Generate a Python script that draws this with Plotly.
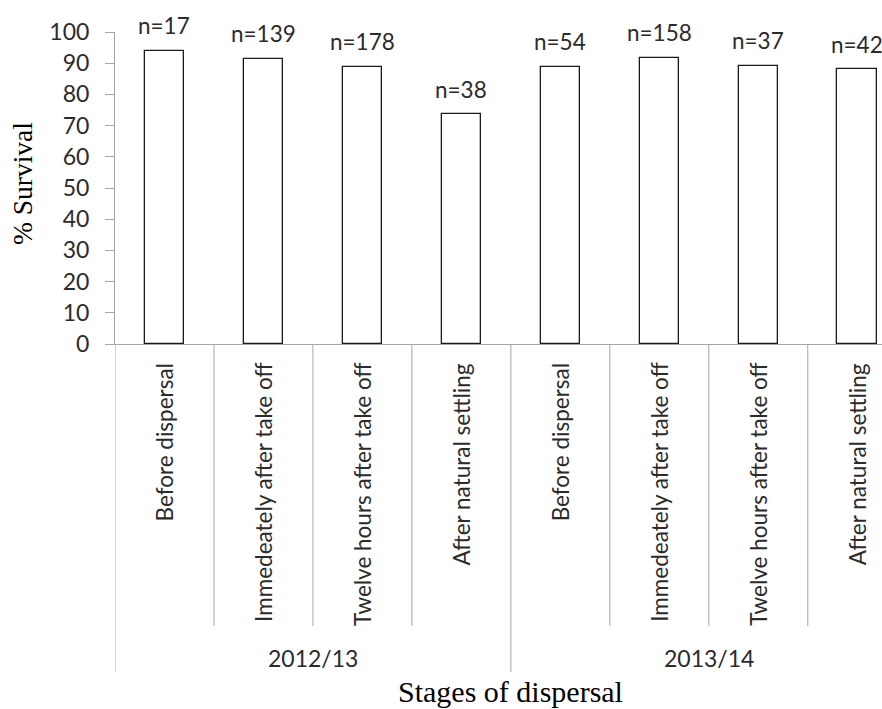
import plotly.graph_objects as go

years = ["2012/13", "2013/14"]
stages = ["Before dispersal", "Immedeately after take off",
          "Twelve hours after take off", "After natural settling"]
survival = [94.0, 91.4, 88.9, 73.7, 88.9, 91.8, 89.2, 88.0]
n_labels = ["n=17", "n=139", "n=178", "n=38", "n=54", "n=158", "n=37", "n=42"]
y_ticks = [0, 10, 20, 30, 40, 50, 60, 70, 80, 90, 100]

cats = [s for _ in years for s in stages]
xs = list(range(len(cats)))

SANS = "Lato, 'Open Sans', sans-serif"
SERIF = "'Liberation Serif', 'Times New Roman', serif"
TXT = "#2b2b2b"
AX = "#a6a6a6"

W, H = 882, 709
M_L, M_R, M_T, M_B = 115, 0, 32, 365
PLOT_H = H - M_T - M_B


def py(px):
    """pixel offset below x-axis -> paper y"""
    return -px / PLOT_H


fig = go.Figure()
fig.add_trace(go.Bar(
    x=xs, y=survival, width=0.4,
    marker=dict(color="white", line=dict(color="#1a1a1a", width=1.3)),
    hoverinfo="skip",
))

shapes = []
annotations = []
n_stage = len(stages)
for k in range(len(cats) + 1):
    outer = (k % n_stage == 0)
    shapes.append(dict(type="line", xref="x", yref="paper",
                       x0=k - 0.5, x1=k - 0.5, y0=0,
                       y1=py(328 if outer else 282),
                       line=dict(color=AX, width=1)))

for i, (v, t) in enumerate(zip(survival, n_labels)):
    annotations.append(dict(x=i, y=v, xref="x", yref="y", text=t,
                            showarrow=False, xanchor="center", yanchor="middle",
                            yshift=25,
                            font=dict(family=SANS, size=22.5, color=TXT)))

for i, c in enumerate(cats):
    annotations.append(dict(x=i, y=0, xref="x", yref="paper",
                            text=c, textangle=-90, showarrow=False,
                            xanchor="center", yanchor="top", yshift=-17,
                            font=dict(family=SANS, size=22.5, color=TXT)))

for j, yr in enumerate(years):
    annotations.append(dict(x=j * n_stage + (n_stage - 1) / 2, y=py(314),
                            xref="x", yref="paper", text=yr, showarrow=False,
                            xanchor="center", yanchor="middle",
                            font=dict(family=SANS, size=23, color=TXT)))

annotations.append(dict(x=(len(cats) - 1) / 2, y=py(347), xref="x", yref="paper",
                        text="Stages of dispersal", showarrow=False,
                        xanchor="center", yanchor="middle",
                        font=dict(family=SERIF, size=30, color="#000000")))

annotations.append(dict(x=0, y=0.5, xref="paper", yref="paper",
                        text="% Survival", textangle=-90, showarrow=False,
                        xanchor="center", yanchor="middle", xshift=-93, yshift=4,
                        font=dict(family=SERIF, size=27.5, color="#000000")))

fig.update_layout(
    width=W, height=H,
    margin=dict(l=M_L, r=M_R, t=M_T, b=M_B, pad=0),
    paper_bgcolor="white", plot_bgcolor="white",
    showlegend=False, bargap=0,
    shapes=shapes, annotations=annotations,
    xaxis=dict(range=[-0.5, 7.25], showticklabels=False, ticks="",
               showgrid=False, zeroline=False, showline=True,
               linecolor=AX, linewidth=1),
    yaxis=dict(range=[0, 100], tickvals=y_ticks, ticks="outside", ticklen=9,
               tickcolor=AX, showgrid=False, zeroline=False, showline=True,
               linecolor=AX, linewidth=1, ticklabelstandoff=11,
               tickfont=dict(family=SANS, size=23, color=TXT)),
)

fig.write_html(
    "out.html",
    config={"displayModeBar": False},
    post_script="document.body.style.margin='0px';document.body.style.overflow='hidden';",
)
